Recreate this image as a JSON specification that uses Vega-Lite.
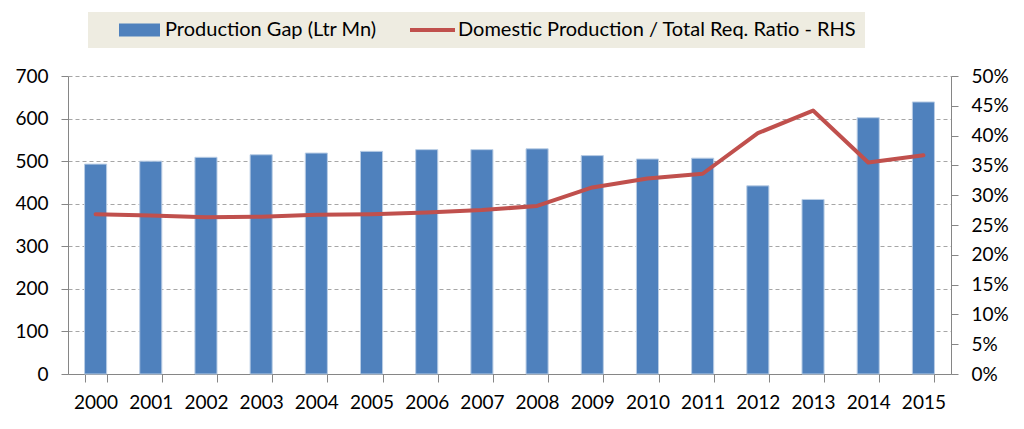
{
  "$schema": "https://vega.github.io/schema/vega-lite/v6.json",
  "width": 883,
  "height": 298,
  "autosize": {"type": "none"},
  "padding": {"left": 68, "top": 76, "right": 73, "bottom": 55},
  "background": "white",
  "config": {
    "view": {"stroke": null},
    "font": "Lato",
    "axis": {
      "labelFont": "Lato",
      "labelFontSize": 19,
      "labelColor": "#000000",
      "domainColor": "#868686",
      "tickColor": "#868686",
      "domainWidth": 1,
      "tickWidth": 1,
      "tickSize": 7,
      "title": null
    },
    "legend": {
      "orient": "none",
      "legendX": 20,
      "legendY": -64,
      "direction": "horizontal",
      "fillColor": "#EEECE1",
      "padding": 8,
      "labelFont": "Lato",
      "labelFontSize": 20,
      "labelColor": "#000000",
      "labelLimit": 600,
      "symbolSize": 400,
      "symbolOffset": 33.5,
      "labelOffset": 15.5,
      "columnPadding": 12
    }
  },
  "data": {
    "values": [
      {"year": "2000", "gap": 493, "ratio": 0.268},
      {"year": "2001", "gap": 500, "ratio": 0.266},
      {"year": "2002", "gap": 509, "ratio": 0.263},
      {"year": "2003", "gap": 515, "ratio": 0.264},
      {"year": "2004", "gap": 519, "ratio": 0.267},
      {"year": "2005", "gap": 523, "ratio": 0.268},
      {"year": "2006", "gap": 527, "ratio": 0.271},
      {"year": "2007", "gap": 527, "ratio": 0.275},
      {"year": "2008", "gap": 529, "ratio": 0.282},
      {"year": "2009", "gap": 513, "ratio": 0.313},
      {"year": "2010", "gap": 505, "ratio": 0.328},
      {"year": "2011", "gap": 507, "ratio": 0.336},
      {"year": "2012", "gap": 442, "ratio": 0.404},
      {"year": "2013", "gap": 410, "ratio": 0.442},
      {"year": "2014", "gap": 602, "ratio": 0.355},
      {"year": "2015", "gap": 639, "ratio": 0.367}
    ]
  },
  "encoding": {
    "x": {
      "field": "year",
      "type": "ordinal",
      "scale": {"paddingInner": 0.6, "paddingOuter": 0.3},
      "axis": {
        "labelAngle": 0,
        "tickBand": "extent",
        "tickSize": 8,
        "labelPadding": 11,
        "grid": false
      }
    }
  },
  "layer": [
    {
      "mark": {"type": "bar", "stroke": "#B9CDE5", "strokeWidth": 1},
      "encoding": {
        "y": {
          "field": "gap",
          "type": "quantitative",
          "scale": {"domain": [0, 700]},
          "axis": {
            "orient": "left",
            "values": [0, 100, 200, 300, 400, 500, 600, 700],
            "grid": true,
            "gridColor": "#A6A6A6",
            "gridDash": [4, 3],
            "labelPadding": 13
          }
        },
        "color": {
          "datum": "Production Gap (Ltr Mn)",
          "type": "nominal",
          "scale": {
            "domain": ["Production Gap (Ltr Mn)", "Domestic Production / Total Req. Ratio - RHS"],
            "range": ["#4F81BD", "#C0504D"]
          },
          "legend": {
            "title": null,
            "encode": {
              "symbols": {
                "update": {
                  "shape": {"signal": "datum.value === 'Production Gap (Ltr Mn)' ? 'M-2.05,-0.65H2.05V0.65H-2.05Z' : 'M-2.25,-0.2H2.25V0.2H-2.25Z'"},
                  "fill": {"signal": "datum.value === 'Production Gap (Ltr Mn)' ? '#4F81BD' : '#C0504D'"},
                  "stroke": {"value": "transparent"},
                  "strokeWidth": {"value": 0},
                  "opacity": {"value": 1}
                }
              }
            }
          }
        }
      }
    },
    {
      "mark": {"type": "line", "strokeWidth": 4, "strokeJoin": "round", "strokeCap": "round"},
      "encoding": {
        "y": {
          "field": "ratio",
          "type": "quantitative",
          "scale": {"domain": [0, 0.5]},
          "axis": {
            "orient": "right",
            "values": [0, 0.05, 0.1, 0.15, 0.2, 0.25, 0.3, 0.35, 0.4, 0.45, 0.5],
            "format": ".0%",
            "grid": false,
            "labelPadding": 13
          }
        },
        "color": {
          "datum": "Domestic Production / Total Req. Ratio - RHS",
          "type": "nominal",
          "legend": {
            "title": null,
            "encode": {
              "symbols": {
                "update": {
                  "shape": {"signal": "datum.value === 'Production Gap (Ltr Mn)' ? 'M-2.05,-0.65H2.05V0.65H-2.05Z' : 'M-2.25,-0.2H2.25V0.2H-2.25Z'"},
                  "fill": {"signal": "datum.value === 'Production Gap (Ltr Mn)' ? '#4F81BD' : '#C0504D'"},
                  "stroke": {"value": "transparent"},
                  "strokeWidth": {"value": 0},
                  "opacity": {"value": 1}
                }
              }
            }
          }
        }
      }
    }
  ],
  "resolve": {"scale": {"y": "independent"}}
}
